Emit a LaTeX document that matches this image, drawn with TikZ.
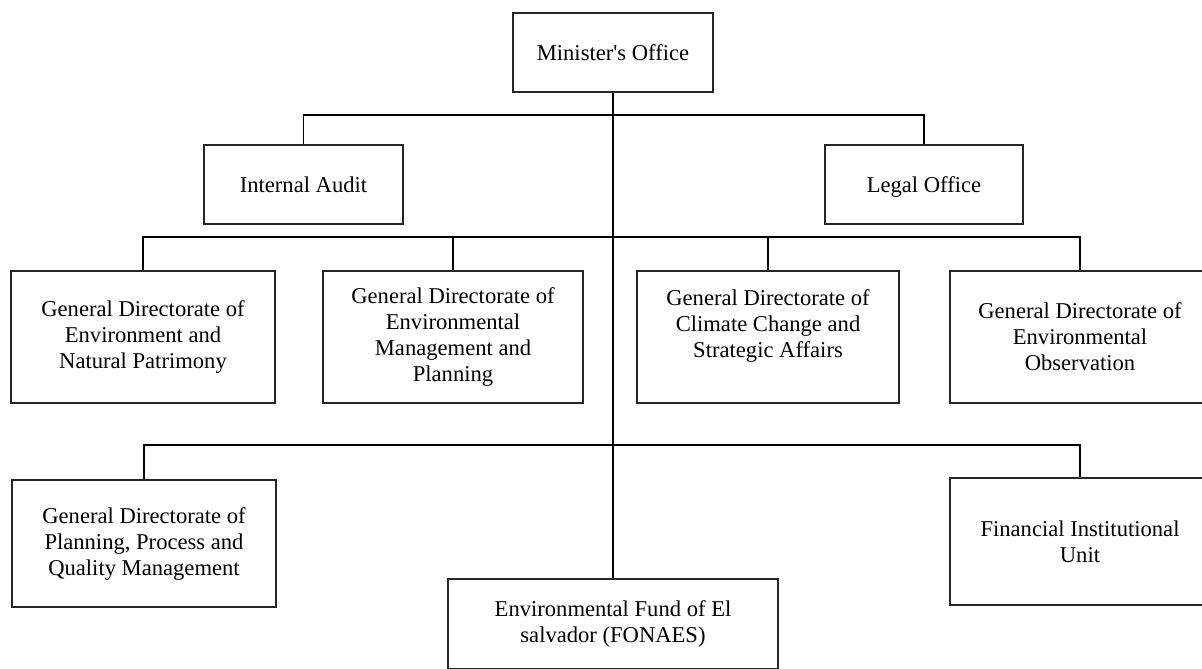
\documentclass[tikz,border=0pt]{standalone}
\usepackage{fontspec}
\setmainfont{Liberation Serif}[Ligatures=TeXOff]
\begin{document}
\begin{tikzpicture}[x=0.5pt,y=-0.5pt,
  box/.style={draw=black!85, line width=0.65pt, rectangle, align=center, inner sep=0pt,
    font=\fontsize{11.3}{13}\selectfont},
  conn/.style={draw=black, line width=0.9pt}]
\useasboundingbox (0,0) rectangle (1202,668);
\node[box, minimum width=100pt, minimum height=39.5pt] (min) at (613,52.5) {Minister's Office};
\node[box, minimum width=99.5pt, minimum height=39.5pt, text height=7.5pt, text depth=0pt] (ia) at (303.5,184.5) {Internal Audit};
\node[box, minimum width=99pt, minimum height=39.5pt, text height=7.5pt, text depth=0pt] (lo) at (924,184.5) {Legal Office};
\node[box, minimum width=132pt, minimum height=66pt] (d1) at (143,337) {General Directorate of\\Environment and\\Natural Patrimony};
\node[box, minimum width=130pt, minimum height=66pt] (d2) at (453,337) {General Directorate of\\Environmental\\Management and\\Planning};
\node[box, minimum width=131pt, minimum height=66pt] (d3) at (768,337) {General Directorate of\\Climate Change and\\Strategic Affairs\\\mbox{}};
\node[box, minimum width=130pt, minimum height=66pt] (d4) at (1080,337) {General Directorate of\\Environmental\\Observation};
\node[box, minimum width=132pt, minimum height=63.5pt] (p1) at (144,543.5) {General Directorate of\\Planning, Process and\\Quality Management};
\node[box, minimum width=165pt, minimum height=45pt] (fu) at (613,624) {Environmental Fund of El\\salvador (FONAES)};
\node[box, minimum width=130pt, minimum height=63.5pt] (fi) at (1080,541.5) {Financial Institutional\\Unit};
\coordinate (t1) at (613,115);
\coordinate (t2) at (613,237);
\coordinate (t3) at (613,445);
\draw[conn] (min.south) -- (fu.north);
\draw[conn] (ia.north) |- (t1) -| (lo.north);
\draw[conn] (d1.north) |- (t2) -| (d4.north);
\draw[conn] (d2.north) -- (d2.north |- t2);
\draw[conn] (d3.north) -- (d3.north |- t2);
\draw[conn] (p1.north) |- (t3) -| (fi.north);
\end{tikzpicture}
\end{document}
